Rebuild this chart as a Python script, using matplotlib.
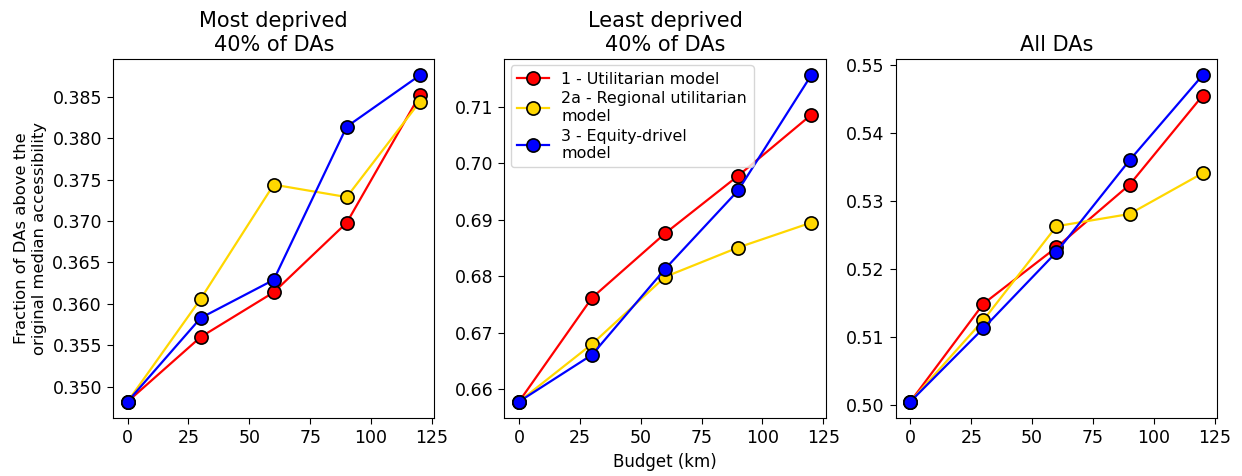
import matplotlib
matplotlib.use("Agg")
import matplotlib.pyplot as plt

budget = [0, 30, 60, 90, 120]

titles = ["Most deprived\n40% of DAs", "Least deprived\n40% of DAs", "All DAs"]
labels = ["1 - Utilitarian model", "2a - Regional utilitarian\nmodel", "3 - Equity-drivel\nmodel"]
colors = ["red", "gold", "blue"]

# most deprived 40%
most_util = [0.3482, 0.3560, 0.3614, 0.3698, 0.3852]
most_reg = [0.3482, 0.3606, 0.3744, 0.3729, 0.3844]
most_eq = [0.3482, 0.3583, 0.3629, 0.3814, 0.3876]

# least deprived 40%
least_util = [0.6578, 0.6762, 0.6876, 0.6978, 0.7086]
least_reg = [0.6578, 0.6680, 0.6799, 0.6851, 0.6895]
least_eq = [0.6578, 0.6661, 0.6813, 0.6952, 0.7156]

# all DAs
all_util = [0.5005, 0.5149, 0.5232, 0.5324, 0.5455]
all_reg = [0.5005, 0.5125, 0.5263, 0.5281, 0.5341]
all_eq = [0.5005, 0.5113, 0.5225, 0.5360, 0.5485]

panels = [
    [most_util, most_reg, most_eq],
    [least_util, least_reg, least_eq],
    [all_util, all_reg, all_eq],
]

fig, axes = plt.subplots(1, 3, figsize=(12.42, 4.76), dpi=100)
fig.subplots_adjust(left=0.091, right=0.980, top=0.876, bottom=0.122, wspace=0.218)

for ax, title, series in zip(axes, titles, panels):
    for vals, col, lab in zip(series, colors, labels):
        ax.plot(budget, vals, color=col, lw=1.6, marker='o', markersize=9.5,
                markerfacecolor=col, markeredgecolor='black', markeredgewidth=1.2,
                label=lab)
    ax.set_title(title, fontsize=15)
    ax.tick_params(labelsize=12.5, length=4.5)
    ax.set_xticks([0, 25, 50, 75, 100, 125])

axes[0].set_ylabel("Fraction of DAs above the\noriginal median accessibility", fontsize=11.8)
axes[1].set_xlabel("Budget (km)", fontsize=12)
axes[1].legend(loc='upper left', fontsize=11.4, handlelength=2, borderaxespad=0.4,
               labelspacing=0.3, borderpad=0.4, handletextpad=0.8)

plt.savefig("out.png")
matplotlib.pyplot.close()
